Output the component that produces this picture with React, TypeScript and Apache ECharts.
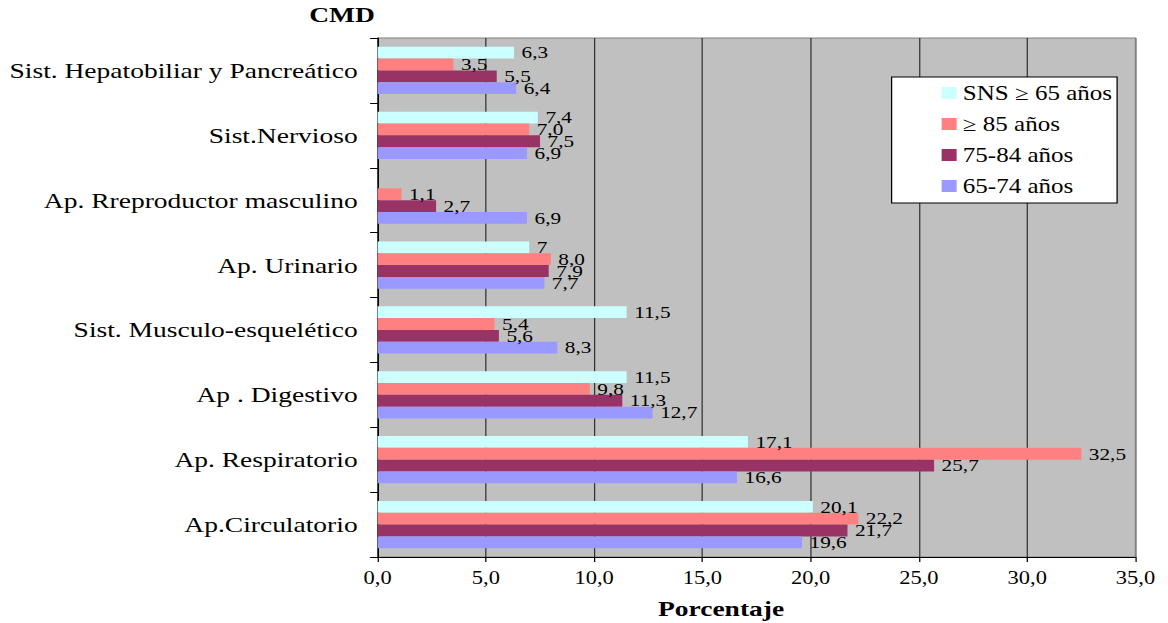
import React, { useEffect, useRef } from "react";
import * as echarts from "echarts";

// Categories from bottom to top
const categories = [
  "Ap.Circulatorio",
  "Ap. Respiratorio",
  "Ap . Digestivo",
  "Sist. Musculo-esquelético",
  "Ap. Urinario",
  "Ap. Rreproductor masculino",
  "Sist.Nervioso",
  "Sist. Hepatobiliar y Pancreático",
];

const seriesNames = ["SNS \u2265 65 años", "\u2265 85 años", "75-84 años", "65-74 años"];
const seriesColors = ["#CCFFFF", "#FF8080", "#993366", "#9999FF"];

const snsValues = [20.1, 17.1, 11.5, 11.5, 7, null, 7.4, 6.3];
const ge85Values = [22.2, 32.5, 9.8, 5.4, 8.0, 1.1, 7.0, 3.5];
const v7584Values = [21.7, 25.7, 11.3, 5.6, 7.9, 2.7, 7.5, 5.5];
const v6574Values = [19.6, 16.6, 12.7, 8.3, 7.7, 6.9, 6.9, 6.4];

// Labels printed without decimals in the source
const snsLabelOverride: Record<string, string> = { "Ap. Urinario": "7" };

const xTicks = [0, 5, 10, 15, 20, 25, 30, 35];

const FONT = "Liberation Serif";
const SCALE = 1.2505;
const W = 934;
const H = 623;

const fmt = (v: number) => v.toFixed(1).replace(".", ",");

export default function App() {
  const ref = useRef<HTMLDivElement>(null);
  useEffect(() => {
    if (!ref.current) return;
    const chart = echarts.init(ref.current, null, { renderer: "svg", width: W, height: H });
    const allValues = [snsValues, ge85Values, v7584Values, v6574Values];
    const series = allValues.map((vals, si) => ({
      type: "bar",
      name: seriesNames[si],
      barGap: "0%",
      barCategoryGap: "27%",
      itemStyle: { color: seriesColors[si] },
      label: {
        show: true,
        position: "right",
        distance: 6,
        fontFamily: FONT,
        fontSize: 17,
        color: "#000",
        formatter: (p: any) => fmt(p.value),
      },
      data: vals.map((v, ci) => {
        if (v === null) return "-";
        if (si === 0 && snsLabelOverride[categories[ci]]) {
          const txt = snsLabelOverride[categories[ci]];
          return { value: v, label: { formatter: () => txt } };
        }
        return v;
      }),
    }));
    const splitColors = xTicks.map((t, i) => (i === xTicks.length - 1 ? "#808080" : "#333333"));
    chart.setOption({
      animation: false,
      backgroundColor: "#fff",
      textStyle: { fontFamily: FONT },
      grid: {
        left: 302,
        right: 26,
        top: 38,
        bottom: 66,
        show: true,
        backgroundColor: "#C0C0C0",
        borderColor: "#808080",
        borderWidth: 1,
      },
      legend: {
        orient: "vertical",
        left: 713,
        top: 77,
        data: seriesNames,
        backgroundColor: "#fff",
        borderColor: "#000",
        borderWidth: 1,
        padding: [6, 4, 7, 40],
        itemWidth: 12,
        itemHeight: 12,
        itemGap: 11,
        icon: "rect",
        textStyle: { fontFamily: FONT, fontSize: 20, color: "#000", lineHeight: 20 },
      },
      xAxis: {
        type: "value",
        min: 0,
        max: 35,
        interval: 5,
        axisLine: { show: true, lineStyle: { color: "#000", width: 1 } },
        axisTick: { show: true, length: 5, lineStyle: { color: "#000" } },
        axisLabel: {
          fontFamily: FONT,
          fontSize: 18,
          color: "#000",
          margin: 12,
          formatter: (v: number) => fmt(v),
        },
        splitLine: { show: true, lineStyle: { color: splitColors, width: 1 } },
      },
      yAxis: {
        type: "category",
        data: categories,
        axisLine: { show: true, lineStyle: { color: "#000", width: 1 } },
        axisTick: { show: true, length: 6, lineStyle: { color: "#000" } },
        axisLabel: { fontFamily: FONT, fontSize: 22, color: "#000", margin: 16 },
      },
      graphic: [
        {
          type: "text",
          x: 273.5,
          y: 14,
          style: {
            text: "CMD",
            fontFamily: FONT,
            fontSize: 22,
            fontWeight: "bold",
            fill: "#000",
            textAlign: "center",
            textVerticalAlign: "middle",
          },
        },
        {
          type: "text",
          x: 576.6,
          y: 608,
          style: {
            text: "Porcentaje",
            fontFamily: FONT,
            fontSize: 22,
            fontWeight: "bold",
            fill: "#000",
            textAlign: "center",
            textVerticalAlign: "middle",
          },
        },
      ],
      series,
    });
    return () => chart.dispose();
  }, []);
  return (
    <div
      style={{
        position: "absolute",
        left: 0,
        top: 0,
        width: W,
        height: H,
        transform: `scaleX(${SCALE})`,
        transformOrigin: "0 0",
      }}
    >
      <div ref={ref} style={{ width: W, height: H }} />
    </div>
  );
}
